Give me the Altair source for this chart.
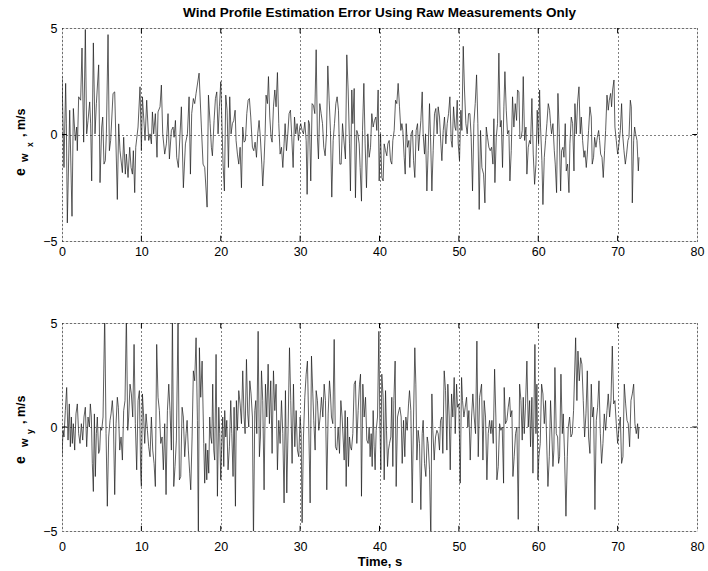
import altair as alt
import pandas as pd

# ---------------- data ----------------
tx = [0.0, 0.25, 0.46, 0.55, 0.67, 0.97, 1.26, 1.43, 1.68, 1.85, 1.93, 2.1, 2.35, 2.52, 2.73, 2.94, 3.11, 3.28, 3.49, 3.61,
      3.74, 3.95, 4.16, 4.33, 4.62, 4.79, 5.0, 5.13, 5.29, 5.46, 5.59, 5.8, 5.97, 6.13, 6.43, 6.64, 6.97, 7.14, 7.31, 7.61,
      7.77, 7.98, 8.11, 8.32, 8.53, 8.7, 8.87, 8.99, 9.16, 9.29, 9.58, 9.83, 10.0, 10.13, 10.34, 10.46, 10.67, 10.92, 11.09, 11.26,
      11.39, 11.55, 11.76, 11.97, 12.1, 12.35, 12.52, 12.69, 12.94, 13.15, 13.36, 13.53, 13.78, 13.99, 14.12, 14.29, 14.45, 14.66, 15.04, 15.29,
      15.55, 15.8, 16.01, 16.18, 16.34, 16.55, 16.72, 16.89, 17.27, 17.56, 17.77, 17.98, 18.28, 18.45, 18.66, 18.82, 18.95, 19.16, 19.33, 19.5,
      19.66, 19.83, 20.0, 20.17, 20.29, 20.46, 20.63, 20.8, 20.97, 21.13, 21.3, 21.47, 21.64, 21.81, 21.93, 22.1, 22.27, 22.44, 22.61, 22.77,
      22.94, 23.11, 23.28, 23.45, 23.61, 23.78, 23.99, 24.16, 24.33, 24.5, 24.66, 24.83, 25.0, 25.17, 25.29, 25.46, 25.59, 25.71, 25.88, 26.01,
      26.18, 26.34, 26.47, 26.64, 26.81, 26.97, 27.14, 27.31, 27.48, 27.65, 27.82, 27.98, 28.11, 28.28, 28.45, 28.61, 28.78, 28.95, 29.12, 29.29,
      29.45, 29.62, 29.79, 29.96, 30.08, 30.25, 30.42, 30.59, 30.76, 30.88, 31.05, 31.18, 31.34, 31.51, 31.68, 31.85, 32.02, 32.18, 32.31, 32.48,
      32.65, 32.82, 32.98, 33.15, 33.32, 33.49, 33.66, 33.82, 33.99, 34.16, 34.33, 34.5, 34.66, 34.83, 35.0, 35.17, 35.34, 35.71, 35.88, 36.05,
      36.22, 36.34, 36.51, 36.64, 36.81, 36.97, 37.14, 37.27, 37.44, 37.56, 37.73, 37.86, 38.03, 38.19, 38.36, 38.53, 38.7, 38.87, 39.03, 39.2,
      39.37, 39.54, 39.66, 39.83, 39.96, 40.13, 40.29, 40.46, 40.59, 40.76, 40.92, 41.05, 41.22, 41.39, 41.55, 41.68, 41.85, 42.02, 42.18, 42.35,
      42.52, 42.69, 42.82, 42.94, 43.11, 43.24, 43.36, 43.53, 43.7, 43.82, 43.99, 44.16, 44.29, 44.45, 44.62, 44.79, 44.92, 45.08, 45.21, 45.38,
      45.5, 45.67, 45.8, 45.97, 46.13, 46.3, 46.43, 46.6, 46.76, 46.93, 47.1, 47.26, 47.39, 47.56, 47.73, 47.86, 48.03, 48.19, 48.36, 48.53,
      48.7, 48.87, 49.03, 49.16, 49.33, 49.5, 49.62, 49.79, 49.92, 50.08, 50.25, 50.38, 50.55, 50.71, 50.88, 51.05, 51.22, 51.39, 51.55, 51.72,
      51.89, 52.06, 52.23, 52.39, 52.56, 52.73, 52.9, 53.11, 53.28, 53.45, 53.61, 53.78, 53.95, 54.12, 54.29, 54.41, 54.54, 54.71, 54.87, 55.04,
      55.21, 55.34, 55.5, 55.67, 55.8, 55.97, 56.13, 56.3, 56.43, 56.6, 56.76, 56.93, 57.1, 57.27, 57.39, 57.56, 57.69, 57.86, 57.98, 58.11,
      58.28, 58.45, 58.57, 58.74, 58.91, 59.03, 59.2, 59.37, 59.54, 59.71, 59.87, 60.04, 60.17, 60.29, 60.46, 60.59, 60.76, 60.92, 61.09, 61.26,
      61.43, 61.55, 61.68, 61.85, 62.02, 62.14, 62.31, 62.48, 62.65, 62.82, 62.94, 63.11, 63.24, 63.4, 63.53, 63.7, 63.87, 63.99, 64.16, 64.33,
      64.5, 64.62, 64.79, 64.96, 65.13, 65.29, 65.42, 65.59, 65.76, 65.88, 66.05, 66.18, 66.34, 66.51, 66.68, 66.8, 66.97, 67.1, 67.27, 67.44,
      67.61, 67.73, 67.86, 68.03, 68.19, 68.36, 68.49, 68.66, 68.82, 68.95, 69.12, 69.24, 69.37, 69.54, 69.66, 69.83, 70.0, 70.17, 70.34, 70.5,
      70.63, 70.8, 70.97, 71.13, 71.3, 71.43, 71.6, 71.72, 71.85, 72.02, 72.14, 72.27, 72.44, 72.61, 72.69]

ewx = [2.72, -1.55, 2.4, 0.5, -4.15, 1.14, -3.84, 1.22, -0.28, 0.35, -0.76, 1.77, 1.61, 4.06, -0.36, 4.93, 0.03, 0.66, 1.53, 0.5,
       -2.18, 4.3, 0.03, 1.45, 3.27, -2.26, 0.35, 0.82, -1.39, -1.23, 0.03, 4.69, -0.76, -0.28, 1.93, 2.0, -3.05, 0.5, -0.76, -1.79,
       -0.13, -1.86, -0.92, -2.02, -0.6, -1.55, -1.86, -0.76, -2.73, -0.6, 0.35, 2.24, -0.76, 1.77, 0.5, -0.28, 1.61, -0.28, 0.03, -0.44,
       1.06, 0.03, 0.98, -1.07, 1.06, 1.3, 2.32, 0.03, -0.92, -0.44, 0.98, -1.15, 0.19, 0.35, -0.13, 0.66, -1.07, -1.55, 1.3, -2.5,
       -0.44, 0.03, 1.77, -1.86, 0.98, 1.69, 1.45, 1.93, 2.88, 0.35, -1.39, -1.55, -3.41, 1.85, 0.51, -0.6, -1.0, 0.66, 1.69, 2.0,
       0.03, 1.3, 2.48, 0.19, -1.39, -2.65, 1.85, 1.14, -1.55, 1.77, 0.03, 0.51, 0.66, 1.14, -0.28, -0.92, -1.39, -0.6, -2.5, 0.35,
       -0.36, -0.28, 0.98, 1.61, 1.69, 0.82, -0.6, -0.76, -0.36, -1.07, 0.03, 0.66, -0.21, -1.39, -2.42, -1.23, 0.03, 1.85, 1.45, 2.72,
       0.82, -0.13, -0.36, 1.3, 2.09, 1.3, 2.91, 0.51, -0.92, -0.6, -1.55, -0.44, 0.51, -0.76, 0.03, 0.98, 1.14, -0.13, -1.55, 0.82,
       0.03, 0.51, -0.28, 0.35, 0.51, 0.19, 0.03, 0.58, -0.28, -2.81, 0.66, 0.51, -2.18, 1.45, 1.37, 0.98, 3.98, -0.13, -1.15, 1.45,
       0.98, 0.51, -0.6, -1.0, 0.03, 3.22, 1.61, 0.19, -2.94, -0.28, 0.51, 1.45, 1.77, 1.14, -1.39, -1.39, 0.51, -1.15, 3.74, 2.09,
       -0.44, -2.65, 2.09, 0.51, 2.16, -2.97, 0.19, 0.03, -0.44, -1.55, -3.13, 0.19, 2.4, -0.44, -2.5, 0.03, -1.07, -0.6, 0.98, 0.35,
       0.66, 0.82, 0.19, 2.09, -2.18, 0.03, -2.02, -2.18, -0.44, -0.76, -1.0, -0.44, -0.28, -1.23, -1.39, -0.28, 0.19, 1.61, 1.45, 2.4,
       1.3, 0.19, 0.51, 0.19, -1.07, -1.86, 0.51, -0.6, -0.28, -1.55, 0.03, 0.2, -1.23, -2.02, 0.19, 0.51, -0.76, 0.03, 0.66, 2.0,
       0.03, -0.92, 0.03, -2.65, -0.76, 1.45, -0.13, -2.65, -0.76, 0.98, 1.22, 0.03, 1.3, 0.82, -0.44, -1.23, 0.19, 0.82, -0.44, 0.51,
       0.98, 1.77, -0.28, -0.6, 1.3, 0.35, 0.19, 1.61, -0.44, -1.23, 1.14, 0.19, 4.14, 2.09, 0.51, 0.03, 0.98, 0.98, -0.13, -2.65,
       0.51, 1.45, 2.8, 0.51, -3.52, 0.19, -1.55, -1.86, -3.21, 0.35, -0.13, -0.6, -0.76, -0.6, -1.39, 0.74, -2.26, -0.13, 0.51, 3.82,
       0.35, 0.66, -1.55, 1.3, 2.95, 1.14, 0.03, 0.19, -2.18, -0.76, 1.77, 0.35, 1.45, 0.66, 2.09, 2.0, -0.21, -0.13, 0.19, 2.72,
       -0.28, 0.35, -1.86, -0.6, -0.28, -0.44, 1.69, -0.92, -2.34, -1.39, 1.14, -0.44, 2.09, 0.35, -1.23, -3.29, -1.07, -0.28, 0.51, 1.45,
       1.14, 0.51, 0.03, 0.51, -0.76, -1.39, -2.73, 1.93, 0.03, -2.65, -0.76, -0.6, -1.07, 0.51, -1.71, -1.39, -2.73, -0.44, 0.82, 0.51,
       -1.71, 1.45, 0.03, 1.53, 2.24, 0.03, 0.82, -0.28, -1.07, -0.76, -1.55, -0.92, 0.19, 1.3, 0.82, -1.39, -1.07, -0.13, -0.6, -0.13,
       0.19, -0.28, -0.92, -1.07, -2.02, -0.76, 0.19, 1.85, 1.14, 1.61, 1.93, 1.3, 2.09, 2.56, 0.35, -0.28, -0.92, -0.44, 0.19, 1.45,
       0.03, -0.76, -1.39, -0.92, -0.28, -0.13, 1.61, 1.3, -3.21, -0.28, 0.35, 0.03, -0.28, -1.71, -1.07]

ty = [0.0, 0.13, 0.25, 0.42, 0.59, 0.76, 0.92, 1.05, 1.18, 1.3, 1.43, 1.6, 1.76, 1.93, 2.1, 2.27, 2.44, 2.61, 2.77, 2.94,
      3.11, 3.28, 3.45, 3.57, 3.7, 3.82, 3.95, 4.08, 4.2, 4.33, 4.45, 4.62, 4.75, 4.87, 5.0, 5.17, 5.38, 5.55, 5.71, 5.88,
      6.05, 6.18, 6.34, 6.47, 6.64, 6.81, 6.97, 7.1, 7.27, 7.44, 7.61, 7.77, 7.94, 8.11, 8.28, 8.4, 8.57, 8.74, 8.91, 9.08,
      9.24, 9.41, 9.58, 9.75, 9.92, 10.0, 10.13, 10.29, 10.42, 10.59, 10.76, 10.92, 11.09, 11.26, 11.43, 11.6, 11.76, 11.93, 12.1, 12.27,
      12.44, 12.61, 12.77, 12.94, 13.11, 13.28, 13.45, 13.61, 13.78, 13.91, 14.08, 14.24, 14.41, 14.62, 14.79, 14.96, 15.13, 15.29, 15.46, 15.63,
      15.76, 15.92, 16.09, 16.22, 16.39, 16.55, 16.72, 16.89, 17.06, 17.18, 17.31, 17.48, 17.65, 17.86, 17.98, 18.11, 18.24, 18.36, 18.49, 18.61,
      18.74, 18.87, 18.99, 19.12, 19.24, 19.41, 19.58, 19.75, 19.87, 20.0, 20.13, 20.25, 20.38, 20.5, 20.63, 20.76, 20.92, 21.09, 21.26, 21.39,
      21.55, 21.68, 21.85, 21.97, 22.1, 22.27, 22.44, 22.61, 22.77, 22.94, 23.07, 23.24, 23.4, 23.53, 23.66, 23.82, 23.99, 24.12, 24.29, 24.41,
      24.54, 24.71, 24.87, 25.0, 25.13, 25.29, 25.46, 25.63, 25.8, 25.97, 26.13, 26.3, 26.47, 26.64, 26.81, 26.97, 27.14, 27.31, 27.48, 27.65,
      27.82, 27.98, 28.15, 28.32, 28.49, 28.66, 28.82, 28.99, 29.16, 29.33, 29.5, 29.66, 29.83, 30.0, 30.13, 30.25, 30.42, 30.59, 30.76, 30.92,
      31.09, 31.26, 31.43, 31.6, 31.72, 31.89, 32.02, 32.18, 32.35, 32.52, 32.69, 32.86, 33.03, 33.19, 33.36, 33.53, 33.7, 33.82, 33.95, 34.12,
      34.29, 34.45, 34.62, 34.79, 34.96, 35.13, 35.29, 35.55, 35.67, 35.8, 35.97, 36.09, 36.22, 36.34, 36.47, 36.64, 36.81, 36.97, 37.14, 37.31,
      37.48, 37.61, 37.73, 37.9, 38.07, 38.24, 38.4, 38.57, 38.7, 38.82, 38.95, 39.08, 39.2, 39.33, 39.45, 39.58, 39.75, 39.92, 40.04, 40.17,
      40.29, 40.46, 40.59, 40.76, 40.88, 41.01, 41.13, 41.26, 41.43, 41.55, 41.68, 41.81, 41.97, 42.1, 42.27, 42.44, 42.56, 42.73, 42.86, 43.03,
      43.19, 43.32, 43.49, 43.66, 43.78, 43.95, 44.12, 44.29, 44.45, 44.58, 44.71, 44.87, 45.04, 45.21, 45.38, 45.5, 45.67, 45.84, 46.01, 46.13,
      46.3, 46.47, 46.6, 46.72, 46.89, 47.06, 47.23, 47.39, 47.56, 47.69, 47.86, 47.98, 48.15, 48.32, 48.49, 48.61, 48.78, 48.91, 49.08, 49.24,
      49.41, 49.54, 49.71, 49.83, 50.0, 50.17, 50.34, 50.46, 50.63, 50.8, 50.97, 51.13, 51.26, 51.43, 51.6, 51.76, 51.93, 52.1, 52.27, 52.44,
      52.61, 52.86, 53.03, 53.19, 53.36, 53.53, 53.7, 53.87, 54.03, 54.16, 54.33, 54.5, 54.66, 54.79, 54.96, 55.13, 55.29, 55.46, 55.63, 55.71,
      55.88, 56.05, 56.22, 56.39, 56.51, 56.68, 56.81, 56.97, 57.14, 57.31, 57.48, 57.65, 57.82, 57.98, 58.11, 58.24, 58.4, 58.57, 58.74, 58.91,
      59.03, 59.2, 59.33, 59.45, 59.58, 59.71, 59.83, 59.96, 60.08, 60.25, 60.42, 60.59, 60.76, 60.92, 61.09, 61.22, 61.39, 61.55, 61.68, 61.85,
      61.97, 62.1, 62.27, 62.44, 62.56, 62.69, 62.86, 63.03, 63.15, 63.32, 63.49, 63.66, 63.78, 63.95, 64.12, 64.29, 64.45, 64.71, 64.87, 65.0,
      65.17, 65.34, 65.5, 65.67, 65.84, 66.01, 66.18, 66.34, 66.51, 66.68, 66.81, 66.97, 67.14, 67.31, 67.48, 67.65, 67.82, 67.98, 68.15, 68.32,
      68.49, 68.66, 68.82, 68.99, 69.16, 69.33, 69.5, 69.66, 69.83, 70.0, 70.17, 70.34, 70.5, 70.67, 70.84, 71.01, 71.18, 71.34, 71.51, 71.68,
      71.85, 72.02, 72.18, 72.35, 72.52, 72.61, 72.69]

ewy = [-1.43, -0.16, -0.48, 0.79, 1.9, -0.63, 1.11, -0.95, 0.48, -0.79, 0.16, -1.11, 0.63, 1.11, -0.32, -0.79, 0.16, -0.63, 0.48, 0.95,
       -0.95, 0.48, 0.0, 1.11, 0.48, -1.75, -3.1, 0.63, -2.38, -0.32, 0.48, -1.27, -1.11, 0.0, -0.16, 0.48, 5.4, -0.32, -3.81, -0.48,
       0.32, 0.63, 1.27, 0.48, -3.25, 0.16, 1.43, 0.95, -1.11, -0.48, -1.59, 0.79, 1.27, 5.4, -0.16, 0.48, 2.06, 1.59, 0.48, 3.97,
       0.16, -2.06, 1.27, 1.75, -2.38, -2.86, 1.59, 0.48, -0.79, 0.63, -0.16, -0.95, -1.43, 0.48, -1.11, -1.75, -2.86, 3.97, 1.43, 0.79,
       -0.79, -0.48, -2.06, 0.16, -3.25, 0.79, 2.06, 0.79, -1.11, 5.4, -2.86, -1.9, -0.63, 5.2, -2.54, -2.38, 0.95, 0.48, -1.43, -0.32,
       0.32, -1.11, -2.22, -3.02, -0.48, 2.7, 2.22, 4.29, 0.32, -5.5, 3.81, 1.43, 3.17, -0.79, -2.7, -0.79, -2.54, -1.11, -2.22, 0.48,
       -0.48, -0.79, 2.06, -1.11, -1.59, 3.49, -3.33, 0.95, -0.32, -2.54, -0.79, 0.48, -1.9, 0.79, -0.48, 0.32, -2.06, -0.95, 1.27, -0.32,
       -2.38, 0.95, -3.81, 1.27, -0.16, 1.75, 1.11, 0.16, 2.7, 0.48, -0.32, 3.25, 0.63, 0.0, 2.22, 1.59, 0.48, -5.5, 0.79, 1.27,
       -0.32, 4.6, -1.43, -0.48, 2.7, 1.27, -3.02, 2.06, 0.48, 3.02, 0.16, 2.22, -1.27, 2.7, 0.79, 2.06, -2.06, 0.32, -0.79, 1.27,
       -0.32, -3.65, 1.75, -3.17, 0.0, 3.81, 1.27, -1.75, 2.06, -0.95, 0.79, -1.11, -1.43, 0.48, -0.32, -4.6, -0.48, 1.43, 2.54, 3.17,
       0.0, -3.65, 3.41, 1.59, 0.32, -1.11, 1.75, 1.27, -0.16, 0.48, 1.43, 0.48, 2.06, 1.27, -3.02, 0.63, 2.22, 1.59, 0.48, 0.16,
       4.21, -0.95, -1.11, 0.0, -1.27, 1.27, 0.48, -1.59, 0.79, -2.86, 0.48, -1.9, -0.48, -0.95, -1.11, -0.32, 2.06, 2.22, -0.79, 0.79,
       2.06, 2.54, -3.33, 2.06, 0.48, 1.43, -0.63, -0.79, 0.0, -1.43, -0.32, -1.9, 0.79, -0.95, -2.06, -0.16, 0.48, 4.6, 0.32, -2.06,
       2.54, 1.43, -2.54, 1.75, -0.16, -1.9, -1.11, -0.79, -0.48, 1.43, -1.9, 1.27, 3.17, -2.86, 0.48, 0.79, 0.95, 0.48, -1.75, 0.32,
       -1.43, 0.48, -0.16, 1.11, 1.75, 0.79, -3.65, 0.48, 3.81, 2.06, -1.59, -0.16, -0.79, -3.97, -0.32, 0.32, -1.75, -2.38, -0.48, -0.79,
       -2.06, -5.5, 1.59, -0.16, -1.59, -0.48, -0.16, -0.32, -1.11, 0.32, 0.48, -1.27, 2.7, 1.75, -1.11, 2.06, 0.48, -2.06, 1.59, 0.48,
       2.38, -0.32, 2.06, 0.95, 1.11, -2.7, 2.38, 1.27, 0.48, 0.95, 1.43, 0.0, 0.79, -1.59, 0.48, 1.59, 0.48, -0.32, 4.13, -1.43,
       1.43, 2.06, -1.59, 1.27, 0.48, -2.54, -0.32, 0.32, -0.32, 0.32, -0.79, 2.78, 0.48, -2.54, -1.9, 0.16, -0.16, 0.0, -2.7, 1.9,
       0.16, 0.32, 0.95, 1.43, 0.48, 0.79, -2.38, -1.43, -0.32, 0.0, -4.44, 2.06, 1.27, -0.63, 1.43, -0.32, 1.11, 3.17, 0.0, 1.27,
       -0.95, 1.43, -2.22, 0.48, 3.97, -0.32, 2.06, -2.54, -1.43, -0.79, 2.06, 1.59, 0.16, 1.27, -1.11, -2.86, -1.43, 1.27, 0.0, -1.9,
       -1.11, 2.86, -0.32, -0.48, -1.75, -1.43, 2.54, -0.32, 0.63, -1.43, -4.29, -1.43, 0.0, 0.48, -0.48, -0.32, 0.79, 4.29, 1.27, 3.65,
       2.22, 3.33, 3.02, 1.27, -0.48, 0.63, 2.7, -0.48, -1.27, 2.06, 0.48, 0.95, -3.97, 0.32, 0.95, 2.22, -0.32, -1.75, -0.79, 0.63,
       -0.16, 0.79, 1.59, 0.48, 1.27, 3.89, 1.11, 1.27, 0.16, -0.79, 0.0, 0.48, -1.75, -1.43, 2.06, 1.11, 0.32, 0.16, -0.95, 1.27,
       1.59, 2.06, 0.16, -0.32, 0.16, -0.56, 0.0]

x_ticks = [0, 10, 20, 30, 40, 50, 60, 70, 80]
inner_x_ticks = [10, 20, 30, 40, 50, 60, 70]
y_ticks = [-5, 0, 5]
title_text = "Wind Profile Estimation Error Using Raw Measurements Only"

FONT = "Liberation Sans"
W = 635


def panel(t, v, h, sub, offs, xtitle=None, lab_pad=4):
    df = pd.DataFrame({"t": t, "v": v})
    xax = alt.Axis(values=x_ticks, grid=True, gridDash=[1, 3], gridColor="black", gridOpacity=1,
                   gridWidth=1, ticks=False, tickSize=0, domain=False, labelPadding=lab_pad,
                   labelFont=FONT, labelFontSize=12.5, labelColor="black", labelFlush=False,
                   title=xtitle if xtitle else None, titleFont=FONT, titleFontSize=13,
                   titleFontWeight="bold", titleColor="black", titlePadding=3)
    yax = alt.Axis(values=y_ticks, grid=True, gridDash=[1, 3], gridColor="black", gridOpacity=1,
                   gridWidth=1, ticks=False, tickSize=0, domain=False, labelPadding=5,
                   labelFont=FONT, labelFontSize=12.5, labelColor="black", labelFlush=False, title=None)
    xs = alt.Scale(domain=[0, 80], nice=False, zero=False)
    ys = alt.Scale(domain=[-5, 5], nice=False)
    line = alt.Chart(df).mark_line(color="#1a1a1a", strokeWidth=0.7, clip=True).encode(
        x=alt.X("t:Q", scale=xs, axis=xax), y=alt.Y("v:Q", scale=ys, axis=yax))

    # inward tick marks (MATLAB style)
    tk = pd.DataFrame({"t": inner_x_ticks})
    tick_b = alt.Chart(tk).mark_rule(color="black", strokeWidth=1).encode(
        x=alt.X("t:Q", scale=xs), y=alt.datum(-5), y2=alt.datum(-4.75))
    tick_t = alt.Chart(tk).mark_rule(color="black", strokeWidth=1).encode(
        x=alt.X("t:Q", scale=xs), y=alt.datum(5), y2=alt.datum(4.75))
    yk = pd.DataFrame({"v": [0]})
    tick_l = alt.Chart(yk).mark_rule(color="black", strokeWidth=1).encode(
        y=alt.Y("v:Q", scale=ys), x=alt.datum(0), x2=alt.datum(0.6))
    tick_r = alt.Chart(yk).mark_rule(color="black", strokeWidth=1).encode(
        y=alt.Y("v:Q", scale=ys), x=alt.datum(79.4), x2=alt.datum(80))

    one = pd.DataFrame({"a": [0]})

    def txt(s, size, xo, yo):
        return alt.Chart(one).mark_text(text=s, font=FONT, fontSize=size, fontWeight="bold",
                                        angle=270, align="left", baseline="alphabetic",
                                        color="black").encode(x=alt.value(xo), y=alt.value(yo))

    ylab = (txt("e", 14, -37.5, offs[0]) + txt("w", 11, -34.5, offs[1]) +
            txt(sub, 8.5, -29.5, offs[2]) + txt(",  m/s", 12.5, -37.5, offs[3]))
    layers = [line, tick_b, tick_t, tick_l, tick_r, ylab]
    return alt.layer(*layers).properties(width=W, height=h)


top = panel(tx, ewx, 213, "x", [148, 134, 119, 109])
top_title = alt.Chart(pd.DataFrame({"a": [0]})).mark_text(
    text=title_text, font=FONT, fontSize=13.5, fontWeight="bold", align="center",
    baseline="middle", color="black").encode(x=alt.value(W / 2), y=alt.value(-15))
top = alt.layer(top, top_title)

bottom = panel(ty, ewy, 208, "y", [141, 124, 111, 101], xtitle="Time, s", lab_pad=9)

chart = alt.vconcat(top, bottom, spacing=82, bounds="flush").properties(
    padding={"left": 13, "top": 5, "right": 0, "bottom": 2}
).configure_view(stroke="black", strokeWidth=1).configure(background="white")

chart.save("out.html", embed_options={"renderer": "svg", "actions": False})
